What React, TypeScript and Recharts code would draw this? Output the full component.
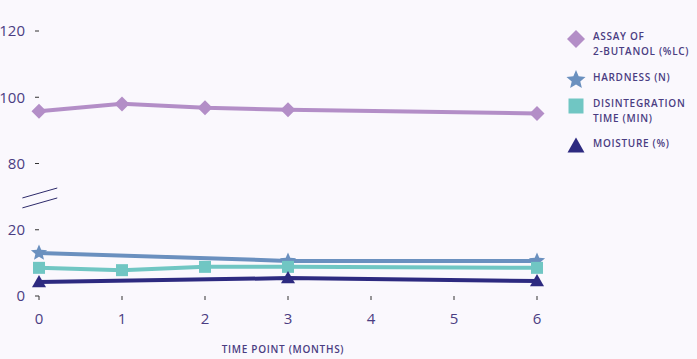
import React from 'react';
import { LineChart, Line, XAxis, YAxis, ReferenceLine } from 'recharts';

// ---- data ----
const monthTicks = [0, 1, 2, 3, 4, 5, 6];
const yTickValues = [0, 20, 80, 100, 120];

const assayMonths = [0, 1, 2, 3, 6];
const assayValues = [95.8, 98.0, 96.8, 96.2, 95.1];

const hardnessMonths = [0, 3, 6];
const hardnessValues = [13.0, 10.6, 10.6];

const disintMonths = [0, 1, 2, 3, 6];
const disintValues = [8.5, 7.8, 8.8, 8.8, 8.5];

const moistureMonths = [0, 3, 6];
const moistureValues = [4.2, 5.4, 4.5];

const seriesNames = ['ASSAY OF\n2-BUTANOL (%LC)', 'HARDNESS (N)', 'DISINTEGRATION\nTIME (MIN)', 'MOISTURE (%)'];
const xTitle = 'TIME POINT (MONTHS)';

// axis break: values between 20 and 80 are collapsed
const BREAK_LOW = 20;
const BREAK_HIGH = 80;
const toAxis = (v: number) => (v >= BREAK_HIGH ? v - (BREAK_HIGH - BREAK_LOW - 20) : v);
const fromAxis = (t: number) => (t > BREAK_LOW ? t + (BREAK_HIGH - BREAK_LOW - 20) : t);

// break marks (x in months, y in axis units just above 20)
const breakMarks = [
  { x1: -0.2, y1: 29.6, x2: 0.22, y2: 32.6 },
  { x1: -0.2, y1: 26.6, x2: 0.22, y2: 29.6 },
];

const build = (xs: number[], ys: number[]) => xs.map((x, i) => ({ x, y: toAxis(ys[i]) }));

const assayData = build(assayMonths, assayValues);
const hardnessData = build(hardnessMonths, hardnessValues);
const disintData = build(disintMonths, disintValues);
const moistureData = build(moistureMonths, moistureValues);

const C_ASSAY = '#b38ec7';
const C_HARD = '#6a90bf';
const C_DIS = '#70c6c3';
const C_MOIST = '#2d2a80';
const TEXT = '#4a3d82';
const BG = '#faf8fd';

const starPath = (cx: number, cy: number, r: number) => {
  const pts: string[] = [];
  for (let i = 0; i < 10; i++) {
    const rad = i % 2 === 0 ? r : r * 0.45;
    const a = -Math.PI / 2 + (i * Math.PI) / 5;
    pts.push(`${cx + rad * Math.cos(a)},${cy + rad * Math.sin(a)}`);
  }
  return 'M' + pts.join('L') + 'Z';
};

const Diamond = ({ cx, cy, size = 8, color }: any) => (
  <path d={`M${cx},${cy - size}L${cx + size},${cy}L${cx},${cy + size}L${cx - size},${cy}Z`} fill={color} />
);
const Star = ({ cx, cy, size = 10, color }: any) => <path d={starPath(cx, cy, size)} fill={color} />;
const Square = ({ cx, cy, size = 7, color }: any) => (
  <rect x={cx - size} y={cy - size} width={size * 2} height={size * 2} fill={color} />
);
const Tri = ({ cx, cy, size = 8, color }: any) => (
  <path d={`M${cx},${cy - size}L${cx + size},${cy + size * 0.75}L${cx - size},${cy + size * 0.75}Z`} fill={color} />
);

const dot = (Shape: any, color: string, size: number) => (p: any) =>
  p.cx == null ? <g key={p.index} /> : <Shape key={p.index} cx={p.cx} cy={p.cy} size={size} color={color} />;

const legendItems = [
  { name: seriesNames[0], Shape: Diamond, color: C_ASSAY, size: 9, top: 29 },
  { name: seriesNames[1], Shape: Star, color: C_HARD, size: 10, top: 70 },
  { name: seriesNames[2], Shape: Square, color: C_DIS, size: 7.5, top: 96 },
  { name: seriesNames[3], Shape: Tri, color: C_MOIST, size: 8.5, top: 136 },
];

export default function App() {
  const font = "'Open Sans', 'Noto Sans', sans-serif";
  return (
    <div style={{ position: 'absolute', left: 0, top: 0, width: 697, height: 359, background: BG, fontFamily: font }}>
      <LineChart
        width={697}
        height={359}
        margin={{ top: 31, right: 160, bottom: 33, left: 0 }}
      >
        <XAxis
          type="number"
          dataKey="x"
          domain={[0, 6]}
          ticks={monthTicks}
          axisLine={false}
          tickLine={{ stroke: '#333' }}
          tickSize={4}
          tickMargin={13}
          height={30}
          tick={{ fill: TEXT, fontSize: 15, fontFamily: font }}
          allowDuplicatedCategory={false}
        />
        <YAxis
          type="number"
          domain={[0, 80]}
          ticks={yTickValues.map(toAxis)}
          tickFormatter={(t: number) => String(fromAxis(t))}
          axisLine={false}
          tickLine={{ stroke: '#333' }}
          tickSize={4}
          tickMargin={10}
          width={39}
          tick={{ fill: TEXT, fontSize: 15, fontFamily: font }}
        />
        {breakMarks.map((b, i) => (
          <ReferenceLine
            key={i}
            segment={[{ x: b.x1, y: b.y1 }, { x: b.x2, y: b.y2 }]}
            stroke="#2d2a6a"
            strokeWidth={1}
            ifOverflow="visible"
          />
        ))}
        <Line data={assayData} dataKey="y" stroke={C_ASSAY} strokeWidth={4} dot={dot(Diamond, C_ASSAY, 7.5)} isAnimationActive={false} />
        <Line data={hardnessData} dataKey="y" stroke={C_HARD} strokeWidth={4} dot={dot(Star, C_HARD, 8.5)} isAnimationActive={false} />
        <Line data={disintData} dataKey="y" stroke={C_DIS} strokeWidth={4} dot={dot(Square, C_DIS, 6)} isAnimationActive={false} />
        <Line data={moistureData} dataKey="y" stroke={C_MOIST} strokeWidth={4} dot={dot(Tri, C_MOIST, 7)} isAnimationActive={false} />
      </LineChart>
      {legendItems.map((it, i) => (
        <div key={i} style={{ position: 'absolute', left: 564, top: it.top, display: 'flex', alignItems: 'flex-start' }}>
          <svg width={24} height={24} style={{ flex: 'none', marginTop: -2 }}>
            <it.Shape cx={12} cy={12} size={it.size} color={it.color} />
          </svg>
          <div
            style={{
              marginLeft: 5,
              color: TEXT,
              fontSize: 10,
              fontWeight: 600,
              letterSpacing: 0.7,
              lineHeight: '15px',
              whiteSpace: 'pre',
            }}
          >
            {it.name}
          </div>
        </div>
      ))}
      <div
        style={{
          position: 'absolute',
          left: 183,
          width: 200,
          top: 342,
          textAlign: 'center',
          color: TEXT,
          fontSize: 10,
          fontWeight: 600,
          letterSpacing: 0.7,
          lineHeight: '14px',
        }}
      >
        {xTitle}
      </div>
    </div>
  );
}
